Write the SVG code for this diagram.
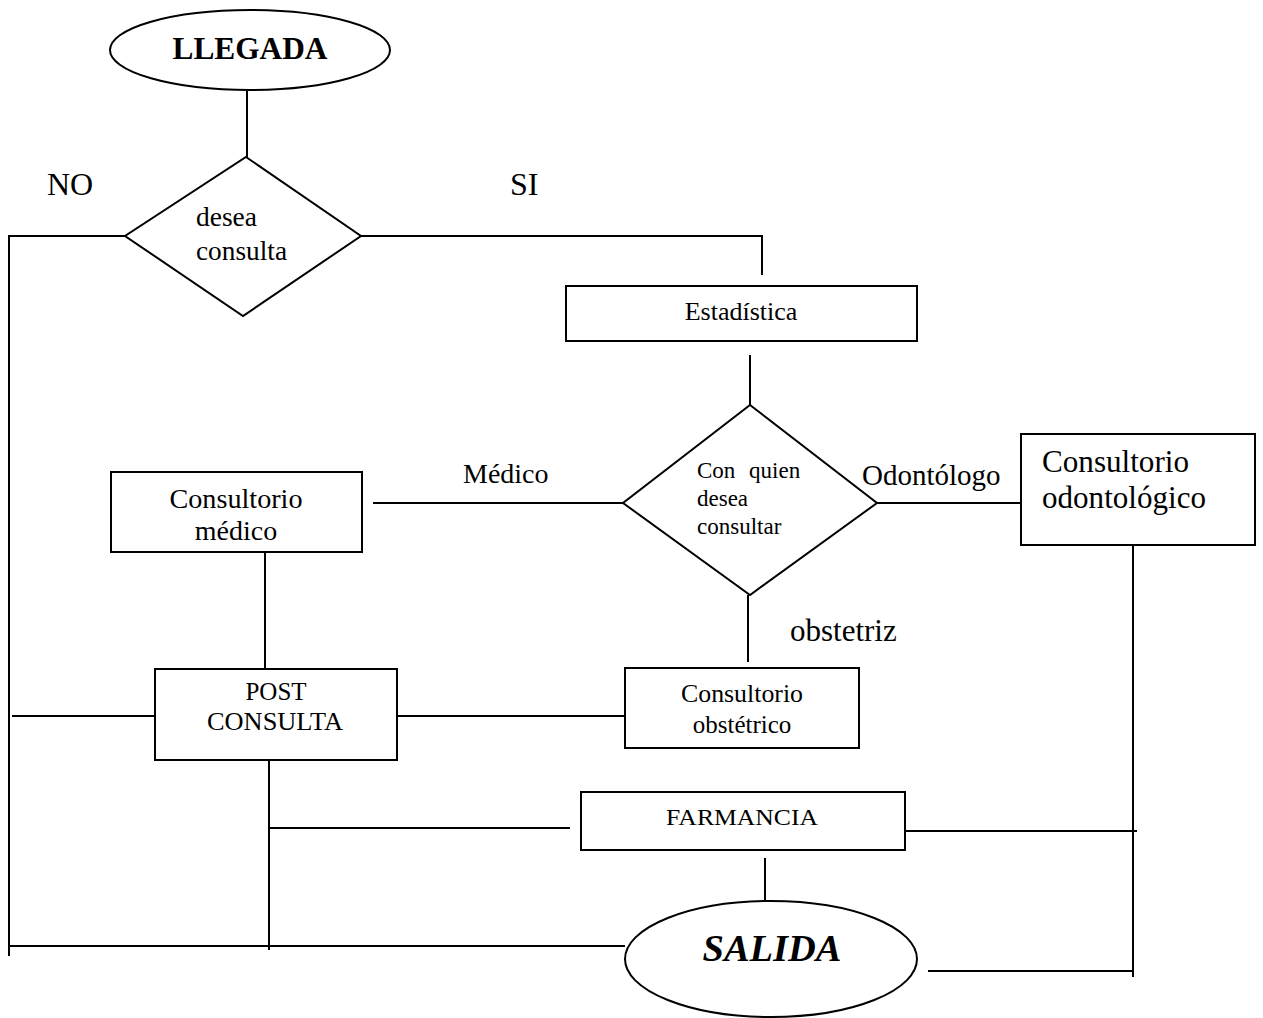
<svg xmlns="http://www.w3.org/2000/svg" width="1263" height="1018" viewBox="0 0 1263 1018">
<style>
.s{fill:#fff;stroke:#000;stroke-width:2}
.c{fill:none;stroke:#000;stroke-width:2}
text{font-family:"Liberation Serif","Times New Roman",serif;fill:#000}
.m{text-anchor:middle}
</style>
<rect width="1263" height="1018" fill="#fff"/>
<g id="connectors">
<path class="c" d="M247 90V157"/>
<path class="c" d="M125 236H9V956"/>
<path class="c" d="M361 236H762V275"/>
<path class="c" d="M750 355V405"/>
<path class="c" d="M623 503H373"/>
<path class="c" d="M877 503H1021"/>
<path class="c" d="M1133 545V977"/>
<path class="c" d="M748 595V662"/>
<path class="c" d="M265 552V668"/>
<path class="c" d="M625 716H398"/>
<path class="c" d="M12 716H157"/>
<path class="c" d="M269 760V950"/>
<path class="c" d="M270 828H570"/>
<path class="c" d="M901 831H1137"/>
<path class="c" d="M765 858V900"/>
<path class="c" d="M9 946H625"/>
<path class="c" d="M928 971H1133"/>
</g>
<g id="labels">
<text x="47" y="195" font-size="32">NO</text>
<text x="510" y="195" font-size="32">SI</text>
<text x="463" y="483" font-size="28">Médico</text>
<text x="862" y="485" font-size="29">Odontólogo</text>
<text x="790" y="641" font-size="31">obstetriz</text>
</g>
<g id="llegada">
<ellipse class="s" cx="250" cy="50" rx="140" ry="40"/>
<text class="m" x="250" y="59" font-size="32" font-weight="bold" textLength="155" lengthAdjust="spacingAndGlyphs">LLEGADA</text>
</g>
<g id="desea-consulta">
<polygon class="s" points="246,157 361,236 243,316 125,236"/>
<text x="196" y="226" font-size="28" textLength="61" lengthAdjust="spacingAndGlyphs">desea</text>
<text x="196" y="260" font-size="28" textLength="91" lengthAdjust="spacingAndGlyphs">consulta</text>
</g>
<g id="estadistica">
<rect class="s" x="566" y="286" width="351" height="55"/>
<text class="m" x="741" y="320" font-size="26">Estadística</text>
</g>
<g id="con-quien">
<polygon class="s" points="750,405 877,503 750,595 623,503"/>
<text x="697" y="478" font-size="23" word-spacing="8">Con quien</text>
<text x="697" y="506" font-size="23">desea</text>
<text x="697" y="534" font-size="23">consultar</text>
</g>
<g id="consultorio-medico">
<rect class="s" x="111" y="472" width="251" height="80"/>
<text class="m" x="236" y="508" font-size="28" textLength="133" lengthAdjust="spacingAndGlyphs">Consultorio</text>
<text class="m" x="236" y="540" font-size="28">médico</text>
</g>
<g id="consultorio-odontologico">
<rect class="s" x="1021" y="434" width="234" height="111"/>
<text x="1042" y="472" font-size="31" textLength="147" lengthAdjust="spacingAndGlyphs">Consultorio</text>
<text x="1042" y="508" font-size="31" textLength="164" lengthAdjust="spacingAndGlyphs">odontológico</text>
</g>
<g id="consultorio-obstetrico">
<rect class="s" x="625" y="668" width="234" height="80"/>
<text class="m" x="742" y="702" font-size="25" textLength="122" lengthAdjust="spacingAndGlyphs">Consultorio</text>
<text class="m" x="742" y="733" font-size="25">obstétrico</text>
</g>
<g id="post-consulta">
<rect class="s" x="155" y="669" width="242" height="91"/>
<text class="m" x="276" y="700" font-size="25">POST</text>
<text class="m" x="275" y="730" font-size="25" textLength="136" lengthAdjust="spacingAndGlyphs">CONSULTA</text>
</g>
<g id="farmancia">
<rect class="s" x="581" y="792" width="324" height="58"/>
<text class="m" x="742" y="825" font-size="24" textLength="152" lengthAdjust="spacingAndGlyphs">FARMANCIA</text>
</g>
<g id="salida">
<ellipse class="s" cx="771" cy="959" rx="146" ry="58"/>
<text class="m" x="772" y="961" font-size="38" font-weight="bold" font-style="italic" font-family="Liberation Sans, Arial, sans-serif" textLength="139" lengthAdjust="spacingAndGlyphs">SALIDA</text>
</g>
</svg>
